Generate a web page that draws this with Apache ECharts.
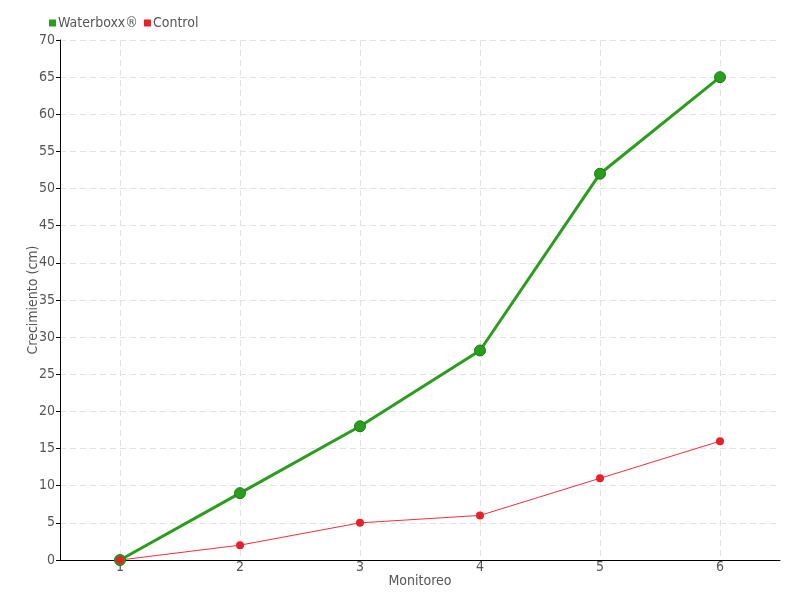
<!DOCTYPE html>
<html>
<head>
<meta charset="utf-8">
<script src="https://cdn.jsdelivr.net/npm/echarts@6/dist/echarts.min.js"></script>
<style>
  html, body { margin: 0; padding: 0; background: #fff; }
  #chart { width: 800px; height: 600px; }
</style>
</head>
<body>
<div id="chart"></div>
<script>
  var categories = ['1', '2', '3', '4', '5', '6']
  var waterboxx = [0, 9, 18, 28.2, 52, 65]
  var control = [0, 2, 5, 6, 11, 16]

  var font = 'DejaVu Sans Condensed'
  var gridDash = { color: '#e2e2e2', type: [6, 4] }

  // half-band slots, used only to place the vertical grid lines on the category centres
  var halfSlots = []
  for (var i = 0; i <= categories.length * 2; i++) halfSlots.push(String(i))

  var chart = echarts.init(document.getElementById('chart'))

  chart.setOption({
    animation: false,
    textStyle: { fontFamily: font },
    legend: {
      left: 44,
      top: 11,
      itemWidth: 7,
      itemHeight: 7,
      itemGap: 6,
      icon: 'rect',
      itemStyle: { borderWidth: 0 },
      textStyle: { color: '#555', fontSize: 14, fontFamily: font, padding: [0, 0, 0, -3] },
      data: ['Waterboxx®', 'Control']
    },
    grid: {
      left: 60,
      right: 20,
      top: 40,
      bottom: 40
    },
    xAxis: [{
      type: 'category',
      data: categories,
      name: 'Monitoreo',
      nameLocation: 'middle',
      nameGap: 14,
      nameMoveOverlap: false,
      nameTextStyle: { color: '#555', fontSize: 14, fontFamily: font },
      axisLine: { lineStyle: { color: '#000', width: 1 } },
      axisTick: { alignWithLabel: true, length: 6, lineStyle: { color: '#555' } },
      axisLabel: { color: '#555', fontSize: 14, margin: 0, fontFamily: font },
      splitLine: { show: false }
    }, {
      type: 'category',
      data: halfSlots,
      boundaryGap: false,
      position: 'bottom',
      axisLine: { show: false },
      axisTick: { show: false },
      axisLabel: { show: false },
      splitLine: {
        show: true,
        interval: function (index) { return index % 2 === 1 },
        lineStyle: gridDash
      }
    }],
    yAxis: {
      type: 'value',
      min: 0,
      max: 70,
      interval: 5,
      name: 'Crecimiento (cm)',
      nameLocation: 'middle',
      nameGap: 20,
      nameMoveOverlap: false,
      nameTextStyle: { color: '#555', fontSize: 14, fontFamily: font },
      axisLine: { show: true, lineStyle: { color: '#000', width: 1 } },
      axisTick: { show: true, length: 4, lineStyle: { color: '#000' } },
      axisLabel: { color: '#555', fontSize: 14, margin: 5, fontFamily: font },
      splitLine: { show: true, lineStyle: gridDash }
    },
    series: [{
      name: 'Waterboxx®',
      type: 'line',
      data: waterboxx,
      symbol: 'circle',
      symbolSize: 11,
      lineStyle: { color: '#2a9e1c', width: 3 },
      itemStyle: { color: '#2a9e1c', borderColor: '#1d7a12', borderWidth: 1 }
    }, {
      name: 'Control',
      type: 'line',
      data: control,
      symbol: 'circle',
      symbolSize: 8,
      lineStyle: { color: '#f0303a', width: 1 },
      itemStyle: { color: '#e8202a', borderWidth: 0 }
    }]
  })
</script>
</body>
</html>
